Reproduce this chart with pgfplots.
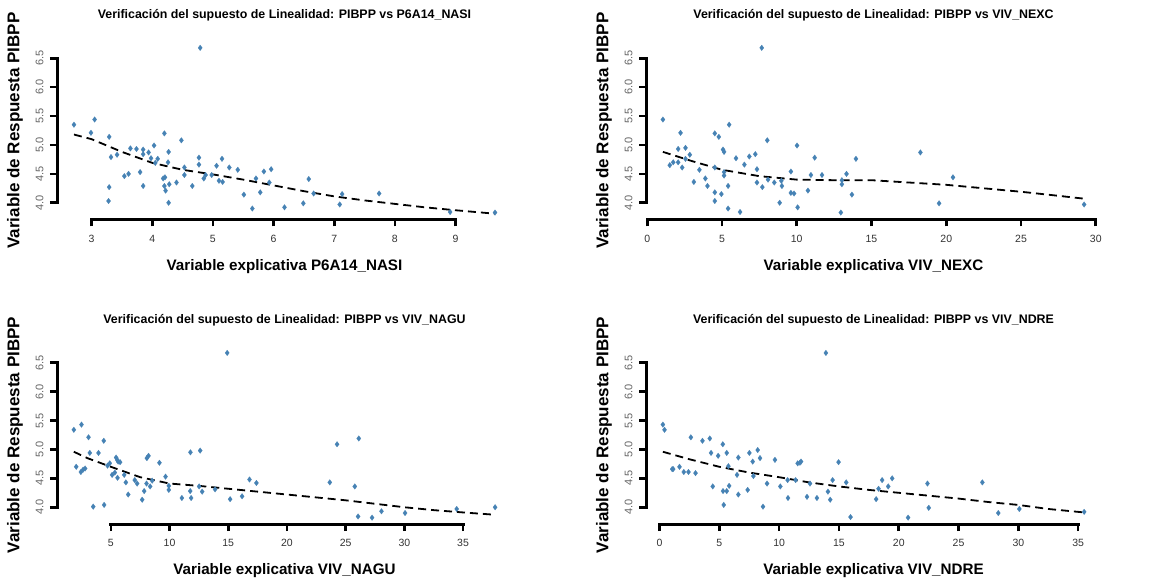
\documentclass[border=0pt]{standalone}
\usepackage{fontspec}
\setmainfont{Liberation Sans}
\usepackage{pgfplots}
\usepackage{pgfplotstable}
\pgfplotsset{compat=1.18}
\definecolor{steel}{HTML}{4682B4}

\pgfplotstableread{
x y
2.71 5.35
2.99 5.21
3.05 5.44
3.29 5.14
3.32 4.79
3.42 4.83
3.29 4.27
3.28 4.03
3.54 4.46
3.61 4.50
3.64 4.94
3.74 4.93
3.80 4.53
3.85 4.92
3.85 4.84
3.85 4.29
3.94 4.87
3.98 4.77
4.03 4.99
4.05 4.69
4.09 4.76
4.20 5.20
4.18 4.42
4.21 4.44
4.20 4.29
4.22 4.21
4.26 4.70
4.27 4.88
4.28 4.32
4.27 4.00
4.40 4.35
4.48 5.08
4.53 4.61
4.53 4.48
4.66 4.29
4.77 4.78
4.77 4.66
4.79 6.68
4.85 4.42
4.88 4.48
4.98 4.48
5.06 4.64
5.10 4.38
5.15 4.76
5.16 4.36
5.27 4.61
5.41 4.57
5.51 4.14
5.65 3.90
5.71 4.42
5.78 4.18
5.84 4.54
5.93 4.35
5.96 4.58
6.18 3.92
6.49 3.99
6.58 4.41
6.66 4.16
7.09 3.97
7.13 4.15
7.74 4.16
8.91 3.84
9.65 3.83
}\dataA

\pgfplotstableread{
x y
2.71 5.18
3.0 5.10
3.5 4.88
4.0 4.69
4.5 4.57
5.0 4.49
5.5 4.40
6.0 4.30
6.5 4.20
7.0 4.11
7.5 4.04
8.0 3.98
8.5 3.92
9.0 3.87
9.65 3.81
}\lineA

\pgfplotstableread{
x y
1.05 5.44
1.51 4.65
1.74 4.70
2.07 4.93
2.07 4.70
2.23 5.21
2.34 4.61
2.56 4.95
2.56 4.76
2.85 4.83
3.12 4.36
3.49 4.57
3.89 4.42
4.03 4.29
4.52 5.20
4.52 4.61
4.52 4.18
4.52 4.03
4.79 5.14
4.96 4.15
5.07 4.92
5.14 4.88
5.14 4.53
5.14 4.47
5.41 3.90
5.41 4.29
5.48 5.35
5.94 4.77
6.21 3.84
6.50 4.66
6.83 4.80
7.23 4.84
7.34 4.58
7.34 4.35
7.66 6.68
7.70 4.27
8.03 5.08
8.08 4.40
8.50 4.35
8.86 4.00
8.97 4.38
9.01 4.29
9.61 4.54
9.61 4.17
9.82 4.16
10.02 4.99
10.06 3.92
10.75 4.21
10.95 4.48
11.20 4.78
11.69 4.48
12.95 3.83
13.02 4.39
13.02 4.32
13.33 4.50
13.69 4.14
13.96 4.76
18.27 4.87
19.52 3.99
20.45 4.44
29.22 3.97
}\dataB

\pgfplotstableread{
x y
1.05 4.88
3.0 4.72
5.0 4.57
7.5 4.46
10.0 4.40
12.5 4.39
15.0 4.39
17.5 4.35
20.0 4.31
22.5 4.25
25.0 4.19
27.5 4.12
29.22 4.07
}\lineB

\pgfplotstableread{
x y
1.85 5.34
2.05 4.70
2.50 5.43
2.45 4.61
2.64 4.65
2.81 4.67
3.10 5.21
3.21 4.94
3.50 4.01
3.95 4.94
4.40 5.15
4.43 4.04
4.72 4.72
4.91 4.76
5.11 4.56
5.34 4.60
5.45 4.86
5.54 4.82
5.62 4.79
5.79 4.78
5.57 4.51
6.14 4.56
6.28 4.43
6.48 4.22
7.04 4.47
7.24 4.41
7.67 4.13
7.84 4.28
8.04 4.41
8.07 4.85
8.21 4.89
8.35 4.36
8.52 4.46
9.14 4.77
9.66 4.53
9.94 4.37
9.94 4.30
11.05 4.16
11.76 4.28
11.78 4.95
11.84 4.16
12.61 4.98
12.52 4.36
12.78 4.27
13.88 4.31
14.91 6.67
15.16 4.14
16.18 4.19
16.81 4.48
17.40 4.42
23.65 4.43
24.27 5.09
25.78 4.36
26.06 3.84
26.12 5.19
27.25 3.82
28.05 3.93
30.06 3.90
34.46 3.97
37.73 4.00
}\dataC

\pgfplotstableread{
x y
1.85 4.96
3.0 4.85
5.0 4.70
7.5 4.52
10.0 4.41
12.5 4.37
15.0 4.32
17.5 4.27
20.0 4.22
22.5 4.17
25.0 4.12
27.5 4.06
30.0 4.00
32.5 3.95
35.0 3.91
37.73 3.87
}\lineC

\pgfplotstableread{
x y
0.28 5.43
0.42 5.34
1.06 4.66
1.14 4.66
1.67 4.70
2.03 4.61
2.42 4.61
2.62 5.21
3.01 4.59
3.59 5.15
4.20 5.19
4.31 4.94
4.45 4.36
4.90 4.89
5.29 5.09
5.31 4.28
5.37 4.04
5.62 4.94
5.62 4.28
5.76 4.71
5.82 4.37
6.48 4.56
6.59 4.86
6.59 4.22
7.37 4.30
7.51 4.94
7.79 4.79
7.85 4.54
8.21 4.99
8.40 4.85
8.65 4.01
8.99 4.41
9.65 4.82
10.10 4.36
10.74 4.16
10.71 4.47
11.38 4.47
11.55 4.76
11.74 4.77
11.83 4.79
12.33 4.18
12.58 4.41
13.16 4.16
13.91 6.67
14.08 4.27
14.27 4.13
14.47 4.47
14.97 4.78
15.61 4.43
15.97 3.83
18.11 4.14
18.31 4.32
18.61 4.47
19.12 4.36
19.45 4.50
20.78 3.82
22.40 4.41
22.51 3.99
26.99 4.43
28.32 3.90
30.08 3.97
35.50 3.92
}\dataD

\pgfplotstableread{
x y
0.28 4.96
2.5 4.83
5.0 4.70
7.5 4.60
10.0 4.52
12.5 4.43
15.0 4.36
17.5 4.30
20.0 4.25
22.5 4.20
25.0 4.15
27.5 4.09
30.0 4.04
32.5 3.97
35.5 3.91
}\lineD

\pgfplotsset{
  rpanel/.style={
    scale only axis, width=455pt, height=178pt,
    clip=false,
    axis x line=bottom, axis y line=left,
    axis line style={draw=none},
    ymin=3.71, ymax=6.79,
    ytick={4,4.5,5,5.5,6,6.5},
    tick align=outside,
    major tick length=7pt,
    tick style={line width=2.6pt, black},
    /pgf/number format/assume math mode=true,
    xticklabel shift=5pt,
    yticklabel shift=3pt,
    x tick label style={font=\fontsize{10.5}{12}\selectfont, color=black!80},
    y tick label style={font=\fontsize{11}{12}\selectfont, color=black!60, rotate=90, anchor=south,
      /pgf/number format/.cd, fixed, fixed zerofill, precision=1},
    title style={font=\fontsize{12.4}{14}\selectfont\bfseries, at={(axis description cs:0.5,1.112)}, anchor=center},
    xlabel style={font=\fontsize{15.2}{17}\selectfont\bfseries, at={(axis description cs:0.5,-0.264)}, anchor=center},
    ylabel style={font=\fontsize{17}{19}\selectfont\bfseries, at={(axis description cs:-0.0923,0.5)}, anchor=center},
    ylabel={Variable de Respuesta PIBPP},
  },
  pts/.style={only marks, mark=diamond*, mark size=2.8pt, color=steel, mark options={fill=steel, draw=steel, line width=0.2pt}},
  fitline/.style={no marks, black, line width=1.8pt, dash pattern=on 8pt off 5pt},
  axline/.style={no marks, black, line width=3pt, line cap=rect, forget plot},
}

\begin{document}
\begin{tikzpicture}
\path[use as bounding box] (0,0) rectangle (1158pt,581pt);

\begin{axis}[rpanel, at={(57pt,361.5pt)}, anchor=south west,
  xmin=2.43, xmax=9.93, xtick={3,4,5,6,7,8,9},
  title={Verificación del supuesto de Linealidad: PIBPP vs P6A14\_NASI},
  xlabel={Variable explicativa P6A14\_NASI}]
  \addplot[axline] coordinates {(3,3.71) (9,3.71)};
  \addplot[axline] coordinates {(2.43,4) (2.43,6.5)};
  \addplot[pts] table {\dataA};
  \addplot[fitline] table {\lineA};
\end{axis}

\begin{axis}[rpanel, at={(646pt,361.5pt)}, anchor=south west,
  xmin=-0.08, xmax=30.35, xtick={0,5,10,15,20,25,30},
  title={Verificación del supuesto de Linealidad: PIBPP vs VIV\_NEXC},
  xlabel={Variable explicativa VIV\_NEXC}]
  \addplot[axline] coordinates {(0,3.71) (30,3.71)};
  \addplot[axline] coordinates {(-0.08,4) (-0.08,6.5)};
  \addplot[pts] table {\dataB};
  \addplot[fitline] table {\lineB};
\end{axis}

\begin{axis}[rpanel, at={(57pt,57pt)}, anchor=south west,
  xmin=0.415, xmax=39.17, xtick={5,10,15,20,25,30,35},
  title={Verificación del supuesto de Linealidad: PIBPP vs VIV\_NAGU},
  xlabel={Variable explicativa VIV\_NAGU}]
  \addplot[axline] coordinates {(5,3.71) (35,3.71)};
  \addplot[axline] coordinates {(0.415,4) (0.415,6.5)};
  \addplot[pts] table {\dataC};
  \addplot[fitline] table {\lineC};
\end{axis}

\begin{axis}[rpanel, at={(646pt,57pt)}, anchor=south west,
  xmin=-1.13, xmax=36.91, xtick={0,5,10,15,20,25,30,35},
  title={Verificación del supuesto de Linealidad: PIBPP vs VIV\_NDRE},
  xlabel={Variable explicativa VIV\_NDRE}]
  \addplot[axline] coordinates {(0,3.71) (35,3.71)};
  \addplot[axline] coordinates {(-1.13,4) (-1.13,6.5)};
  \addplot[pts] table {\dataD};
  \addplot[fitline] table {\lineD};
\end{axis}
\end{tikzpicture}
\end{document}
